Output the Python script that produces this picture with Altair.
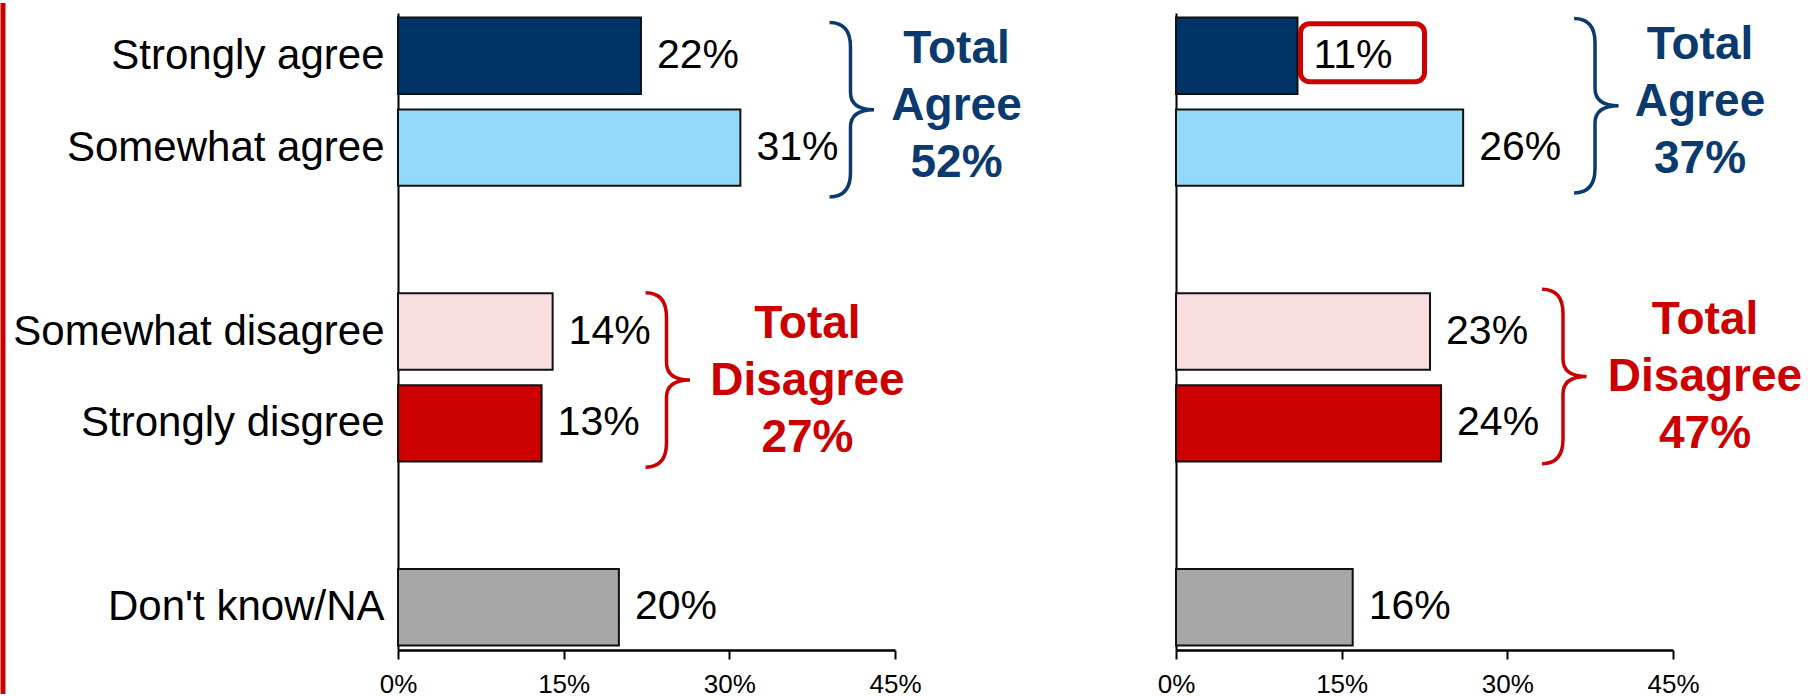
import altair as alt
import pandas as pd

# ---------------- data ----------------
categories = ["Strongly agree", "Somewhat agree", "Somewhat disagree", "Strongly disgree", "Don't know/NA"]
y_domain = ["Strongly agree", "Somewhat agree", " ", "Somewhat disagree", "Strongly disgree", "  ", "Don't know/NA"]
left_values = [22, 31, 14, 13, 20]
right_values = [11, 26, 23, 24, 16]
bar_colors = ["#003366", "#93D9F9", "#F9DEE1", "#CC0000", "#A6A6A6"]
x_ticks = [0, 15, 30, 45]

group_names = ["Agree", "Disagree"]
group_anchor = ["Strongly agree", "Somewhat disagree"]
group_colors = ["#0B3A6E", "#CC0000"]
left_totals = [52, 27]
right_totals = [37, 47]
left_brace_x = [40.97, 24.31]
right_brace_x = [37.94, 35.04]
left_brace_dy = [54, 48.5]
right_brace_dy = [50, 45]
left_text_x = [50.57, 37.07]
right_text_x = [47.45, 47.9]
left_text_dy = [50, 49]
right_text_dy = [46, 45]

highlight_category = ["Strongly agree"]
highlight_x = [11.27]
highlight_x2 = [22.5]

FONT = "Liberation Sans"
BRACE = "M -0.24 -1 Q 0 -1 0 -0.72 L 0 -0.2 Q 0 0 0.27 0 Q 0 0 0 0.2 L 0 0.72 Q 0 1 -0.24 1"
LINE_H = 57

W, H = 497, 637

x_scale = alt.Scale(domain=[0, 45], nice=False, zero=True)
y_scale = alt.Scale(domain=y_domain, paddingInner=0.17, paddingOuter=0.05)


def panel(values, totals, brace_x, brace_dy, text_x, text_dy, show_labels, extra=None):
    df = pd.DataFrame({
        "cat": categories,
        "val": values,
        "color": bar_colors,
        "label": [f"{v}%" for v in values],
    })
    x_axis = alt.Axis(values=x_ticks, labelExpr="datum.value + '%'", grid=False,
                      domainColor="black", domainWidth=2.5, tickColor="black", tickWidth=2,
                      tickSize=9, labelFontSize=26, labelFont=FONT, labelColor="black",
                      labelPadding=12, labelFlush=False, labelOverlap=False, title=None)
    y_axis = alt.Axis(grid=False, ticks=False, domainColor="black", domainWidth=2,
                      labels=show_labels, labelFontSize=42, labelFont=FONT, labelColor="black",
                      labelPadding=14, labelLimit=0, title=None)
    bars = alt.Chart(df).mark_bar(stroke="#111111", strokeWidth=2).encode(
        x=alt.X("val:Q", scale=x_scale, axis=x_axis),
        y=alt.Y("cat:N", scale=y_scale, axis=y_axis, sort=y_domain),
        fill=alt.Fill("color:N", scale=None),
    )
    layers = [bars]
    if extra is not None:
        layers.append(extra)
    labels = alt.Chart(df).mark_text(align="left", baseline="middle", dx=16, fontSize=41,
                                     font=FONT, color="black").encode(
        x=alt.X("val:Q", scale=x_scale),
        y=alt.Y("cat:N", scale=y_scale, sort=y_domain),
        text="label:N",
    )
    layers.append(labels)
    for i in range(2):
        adf = pd.DataFrame({
            "cat": [group_anchor[i]],
            "bx": [brace_x[i]],
            "tx": [text_x[i]],
            "label": [f"Total\n{group_names[i]}\n{totals[i]}%"],
        })
        brace = alt.Chart(adf).mark_point(shape=BRACE, size=30400, filled=False, opacity=1,
                                          stroke=group_colors[i], strokeWidth=3.5,
                                          yOffset=brace_dy[i]).encode(
            x=alt.X("bx:Q", scale=x_scale),
            y=alt.Y("cat:N", scale=y_scale, sort=y_domain),
        )
        txt = alt.Chart(adf).mark_text(align="center", baseline="middle", lineBreak="\n",
                                       fontSize=46, fontWeight="bold", lineHeight=LINE_H,
                                       font=FONT, color=group_colors[i],
                                       yOffset=text_dy[i] - LINE_H).encode(
            x=alt.X("tx:Q", scale=x_scale),
            y=alt.Y("cat:N", scale=y_scale, sort=y_domain),
            text="label:N",
        )
        layers += [brace, txt]
    return layers


# red vertical accent line at the far left
red_line = alt.Chart(pd.DataFrame({"a": [0]})).mark_rule(color="#CC0000", strokeWidth=5).encode(
    x=alt.value(-395), y=alt.value(-10), y2=alt.value(681)
)

left_layers = panel(left_values, left_totals, left_brace_x, left_brace_dy,
                    left_text_x, left_text_dy, True)
left = alt.layer(red_line, *left_layers).properties(width=W, height=H)

hl_df = pd.DataFrame({"cat": highlight_category, "x1": highlight_x, "x2": highlight_x2})
highlight = alt.Chart(hl_df).mark_bar(fill="white", stroke="#CC0000", strokeWidth=5,
                                      cornerRadius=9, size=58, yOffset=-3).encode(
    x=alt.X("x1:Q", scale=x_scale),
    x2="x2:Q",
    y=alt.Y("cat:N", scale=y_scale, sort=y_domain),
)
right_layers = panel(right_values, right_totals, right_brace_x, right_brace_dy,
                     right_text_x, right_text_dy, False, extra=highlight)
right = alt.layer(*right_layers).properties(width=W, height=H)

chart = alt.hconcat(left, right, spacing=281, bounds="flush").properties(
    padding={"left": 0, "top": 0, "right": 0, "bottom": 0},
    background="white",
).configure_view(stroke=None)

chart.save("out.html", embed_options={"renderer": "svg", "actions": False})
